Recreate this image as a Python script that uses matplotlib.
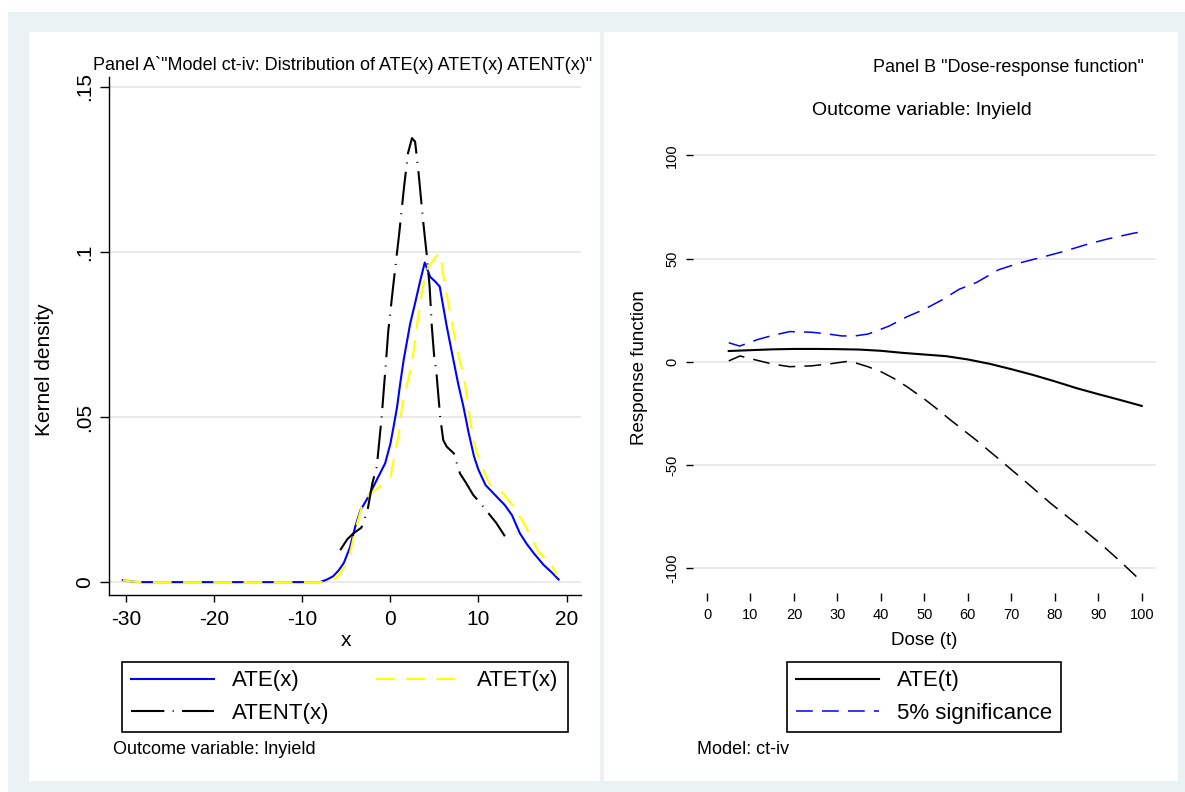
import matplotlib.pyplot as plt
from matplotlib.patches import Rectangle

plt.rcParams['font.family'] = ['Liberation Sans', 'DejaVu Sans']
plt.rcParams['axes.unicode_minus'] = False  # Stata prints "-30", not a unicode minus

# ---- Panel A: kernel densities of ATE(x), ATET(x), ATENT(x) ----
ate_x = [-30.4, -29.5, -28.5, -8.0, -7.2, -6.5, -5.9, -5.3, -4.6, -4.0, -3.4, -2.5, -1.55,
         -0.6, 0.0, 0.35, 0.75, 1.1, 1.5, 2.25, 2.8, 3.4, 3.9, 4.5, 5.1, 5.6, 6.0, 6.4, 7.0,
         7.7, 8.3, 8.9, 9.5, 10.0, 10.8, 11.7, 13.0, 13.8, 14.7, 15.5, 16.3, 17.4, 18.3, 19.1]
ate_y = [0.0006, 0.0002, 0.0, 0.0, 0.0008, 0.0018, 0.0035, 0.0058, 0.0105, 0.0168, 0.0218,
         0.0259, 0.0310, 0.0360, 0.0420, 0.0470, 0.0530, 0.0600, 0.0673, 0.0784, 0.0845,
         0.0915, 0.0968, 0.0925, 0.0910, 0.0895, 0.0834, 0.0774, 0.0693, 0.0600, 0.0530,
         0.0450, 0.0380, 0.0340, 0.0294, 0.0269, 0.0233, 0.0203, 0.0148, 0.0115, 0.0087,
         0.0052, 0.0030, 0.0008]

atet_x = [-30.4, -29.5, -28.5, -7.6, -6.8, -6.2, -5.7, -5.1, -4.6, -4.0, -3.25, -2.3, -1.2,
          0.0, 0.5, 0.9, 1.3, 1.8, 2.25, 2.6, 3.1, 3.55, 4.1, 4.6, 5.15, 5.65, 6.2, 6.8, 7.35,
          7.85, 8.3, 8.85, 9.4, 10.2, 11.3, 12.8, 14.0, 15.3, 16.0, 16.8, 17.5, 18.2, 18.9]
atet_y = [0.0006, 0.0002, 0.0, 0.0, 0.0004, 0.0012, 0.0026, 0.0052, 0.0087, 0.0158, 0.0228,
          0.0269, 0.0289, 0.0319, 0.0390, 0.0440, 0.0530, 0.0590, 0.0640, 0.0693, 0.0794,
          0.0875, 0.0945, 0.0965, 0.0985, 0.0996, 0.0895, 0.0814, 0.0733, 0.0673, 0.0632,
          0.0530, 0.0430, 0.0360, 0.0294, 0.0269, 0.0228, 0.0173, 0.0135, 0.0092, 0.0075,
          0.0057, 0.0021]

atent_x = [-5.7, -4.9, -4.2, -3.3, -2.6, -2.05, -1.55, -1.0, -0.5, -0.25, 0.35, 1.0, 1.55,
           2.0, 2.45, 2.8, 3.2, 3.7, 4.1, 4.45, 4.7, 5.0, 5.2, 5.65, 6.0, 6.4, 7.2, 7.9, 8.6,
           9.4, 10.2, 11.0, 12.0, 13.0]
atent_y = [0.0097, 0.0130, 0.0148, 0.0165, 0.0218, 0.0300, 0.0350, 0.0500, 0.0670, 0.0760,
           0.0906, 0.1057, 0.1198, 0.1300, 0.1345, 0.1334, 0.1238, 0.1097, 0.0997, 0.0895,
           0.0774, 0.0673, 0.0642, 0.0500, 0.0430, 0.0410, 0.0390, 0.0329, 0.0300, 0.0264,
           0.0240, 0.0213, 0.0180, 0.0139]

dens_ticks = [0, 0.05, 0.1, 0.15]
dens_labels = ['0', '.05', '.1', '.15']
x_ticks = [-30, -20, -10, 0, 10, 20]

# ---- Panel B: dose-response function with 5% bands ----
dose_ate = [5, 10, 15, 20, 25, 30, 35, 40, 45, 50, 55, 60, 65, 70, 75, 80, 85, 90, 95, 100]
ate_t = [5.3, 5.7, 6.1, 6.3, 6.3, 6.2, 6.0, 5.4, 4.4, 3.6, 2.8, 1.2, -0.9, -3.5, -6.3, -9.4,
         -12.7, -15.6, -18.4, -21.3]

dose_hi = [5, 7.5, 10, 11.4, 15, 19, 24, 28, 31, 34, 37, 39, 42, 46, 50, 54, 58, 62, 67, 72,
           77, 82, 87, 92, 98, 100]
ate_hi = [9.3, 7.7, 9.5, 10.7, 12.8, 14.7, 14.4, 13.5, 12.6, 12.6, 13.5, 15.0, 17.5, 21.9,
          25.5, 30.0, 35.2, 38.5, 44.6, 48.0, 50.7, 53.5, 56.7, 59.5, 62.3, 63.0]

dose_lo = [5, 7.6, 10.6, 15, 19, 24, 28, 32, 34.4, 37, 40, 43, 46, 50, 52.4, 56, 62, 67.4, 73,
           79, 85, 90.4, 95, 100]
ate_lo = [0.5, 2.9, 1.3, -1.0, -2.3, -1.9, -1.0, 0.2, -0.6, -2.3, -4.7, -8.0, -12.0, -18.0,
          -21.9, -28.1, -38.0, -47.5, -57.5, -68.4, -78.5, -87.8, -96.5, -106.4]

resp_ticks = [-100, -50, 0, 50, 100]
dose_ticks = [0, 10, 20, 30, 40, 50, 60, 70, 80, 90, 100]

W, H = 1185, 792
fig = plt.figure(figsize=(W / 100, H / 100), dpi=100, facecolor='white')


def px_rect(x0, y0, x1, y1, color):
    # rectangle given in pixels from the top-left corner
    fig.add_artist(Rectangle((x0 / W, 1 - y1 / H), (x1 - x0) / W, (y1 - y0) / H,
                             transform=fig.transFigure, facecolor=color, edgecolor='none',
                             zorder=-10))


px_rect(8, 12, W, H, '#EAF2F3')         # Stata graph region
px_rect(28.7, 32, 600, 781, 'white')    # panel A
px_rect(604, 32, 1177.6, 781, 'white')  # panel B

grid_col = '#EAEAEA'

# Panel A
ax1 = fig.add_axes([109 / W, 1 - 595 / H, 471.6 / W, 518 / H])
ax1.plot(ate_x, ate_y, color='#0000FF', lw=1.5, label='ATE(x)')
ax1.plot(atet_x, atet_y, color='#FFFF00', lw=1.5, dashes=(9, 5.5), label='ATET(x)')
ax1.plot(atent_x, atent_y, color='black', lw=1.5, dashes=(16, 4, 0.5, 4), label='ATENT(x)')
ax1.set_xlim(-31.97, 21.6)
ax1.set_ylim(-0.0039, 0.1530)
ax1.set_xticks(x_ticks)
ax1.set_yticks(dens_ticks)
ax1.set_yticklabels(dens_labels, rotation=90, va='center')
ax1.grid(axis='y', color=grid_col, lw=1.4)
ax1.set_axisbelow(True)
ax1.spines[['top', 'right']].set_visible(False)
ax1.spines[['left', 'bottom']].set_linewidth(1.0)
ax1.tick_params(axis='x', length=5, width=1, labelsize=15, pad=6)
ax1.tick_params(axis='y', length=6.5, width=1, labelsize=15, pad=4)
ax1.set_xlabel('x', fontsize=15, va='center')
ax1.xaxis.set_label_coords(0.5017, -0.0869)
ax1.set_ylabel('Kernel density', fontsize=15, va='center')
ax1.yaxis.set_label_coords(-0.1378, 0.4344)

# Panel B
ax2 = fig.add_axes([693 / W, 1 - 593 / H, 463 / W, 446 / H])
ax2.plot(dose_ate, ate_t, color='black', lw=1.5, label='ATE(t)')
ax2.plot(dose_hi, ate_hi, color='#0000FF', lw=1.1, dashes=(11, 6), label='5% significance')
ax2.plot(dose_lo, ate_lo, color='black', lw=1.1, dashes=(11, 6))
ax2.set_xlim(-3.22, 103.27)
ax2.set_ylim(-111.9, 104.1)
ax2.set_xticks(dose_ticks)
ax2.set_yticks(resp_ticks)
ax2.set_yticklabels([str(t) for t in resp_ticks], rotation=90, va='center')
ax2.grid(axis='y', color=grid_col, lw=1.4)
ax2.set_axisbelow(True)
for s in ax2.spines.values():
    s.set_visible(False)
ax2.tick_params(axis='x', length=6, width=1, labelsize=10.5, pad=5)
ax2.tick_params(axis='y', length=5, width=1, labelsize=10.5, pad=5)
ax2.set_xlabel('Dose (t)', fontsize=13.5, va='center')
ax2.xaxis.set_label_coords(0.5002, -0.1054)
ax2.set_ylabel('Response function', fontsize=13.5, va='center')
ax2.yaxis.set_label_coords(-0.1145, 0.5045)

# legends
h1, l1 = ax1.get_legend_handles_labels()
order = [0, 2, 1]  # fill row-wise: ATE(x) ATET(x) / ATENT(x)
leg_kw = dict(loc='center', fontsize=16, frameon=True, fancybox=False, framealpha=1,
              edgecolor='black', borderaxespad=0, handlelength=3.74, handletextpad=0.8)
lg1 = fig.legend([h1[i] for i in order], [l1[i] for i in order], ncol=2, columnspacing=2.1,
                 bbox_to_anchor=(345 / W, 1 - 697 / H), **leg_kw)
lg1.get_frame().set_linewidth(1.2)
h2, l2 = ax2.get_legend_handles_labels()
lg2 = fig.legend(h2, l2, bbox_to_anchor=(924 / W, 1 - 697 / H), **leg_kw)
lg2.get_frame().set_linewidth(1.2)

# titles and notes
fig.text(93 / W, 1 - 64.5 / H,
         'Panel A`"Model ct-iv: Distribution of ATE(x) ATET(x) ATENT(x)"',
         fontsize=13, ha='left', va='center')
fig.text(1144 / W, 1 - 67.8 / H, 'Panel B "Dose-response function"',
         fontsize=13, ha='right', va='center')
fig.text(921.6 / W, 1 - 110.7 / H, 'Outcome variable: lnyield', fontsize=14,
         ha='center', va='center')
fig.text(113 / W, 1 - 749 / H, 'Outcome variable: lnyield', fontsize=13,
         ha='left', va='center')
fig.text(697 / W, 1 - 749 / H, 'Model: ct-iv', fontsize=13, ha='left', va='center')

fig.savefig('out.png', dpi=100)
